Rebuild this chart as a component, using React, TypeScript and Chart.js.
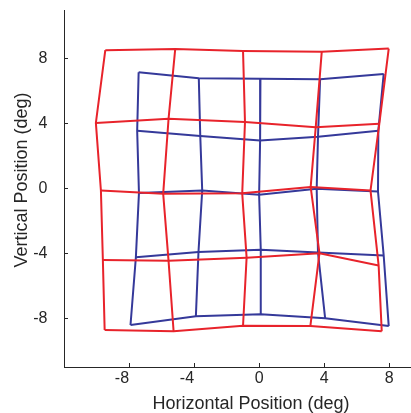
import React, { useEffect, useRef } from "react";
import { Chart, registerables } from "chart.js";

Chart.register(...registerables);

const xTicks = [-8, -4, 0, 4, 8];
const yTicks = [-8, -4, 0, 4, 8];

// Red grid vertices (rows top to bottom, columns left to right)
const redX = [
  [-9.46, -5.16, -0.99, 3.85, 7.97],
  [-10.04, -5.57, -0.87, 3.48, 7.39],
  [-9.73, -5.9, -1.04, 3.17, 6.85],
  [-9.61, -5.57, -0.77, 3.71, 7.35],
  [-9.5, -5.26, -0.99, 3.15, 7.54],
];
const redY = [
  [8.52, 8.6, 8.48, 8.42, 8.62],
  [4.04, 4.3, 4.1, 3.77, 3.99],
  [-0.12, -0.33, -0.3, 0.09, -0.12],
  [-4.4, -4.46, -4.26, -3.99, -4.75],
  [-8.72, -8.8, -8.46, -8.48, -8.8],
];

// Blue grid vertices
const blueX = [
  [-7.41, -3.71, 0.08, 3.75, 7.66],
  [-7.5, -3.62, 0.06, 3.62, 7.33],
  [-7.39, -3.5, 0.0, 3.54, 7.31],
  [-7.58, -3.73, 0.1, 3.62, 7.66],
  [-7.91, -3.89, 0.1, 4.06, 7.97],
];
const blueY = [
  [7.16, 6.79, 6.77, 6.73, 7.06],
  [3.56, 3.23, 2.96, 3.19, 3.56],
  [-0.27, -0.12, -0.38, -0.02, -0.19],
  [-4.24, -3.91, -3.78, -3.95, -4.13],
  [-8.41, -7.88, -7.75, -8.0, -8.48],
];

const xTitle = "Horizontal Position (deg)";
const yTitle = "Vertical Position (deg)";

const RED = "#e8232b";
const BLUE = "#35399a";
const AXIS = "#262626";
const FONT = "'Liberation Sans', Arial, Helvetica, sans-serif";

function gridDatasets(xs: number[][], ys: number[][], color: string) {
  const sets: any[] = [];
  const n = xs.length;
  const m = xs[0].length;
  for (let i = 0; i < n; i++) {
    const pts = [];
    for (let j = 0; j < m; j++) pts.push({ x: xs[i][j], y: ys[i][j] });
    sets.push(pts);
  }
  for (let j = 0; j < m; j++) {
    const pts = [];
    for (let i = 0; i < n; i++) pts.push({ x: xs[i][j], y: ys[i][j] });
    sets.push(pts);
  }
  return sets.map((data) => ({
    data,
    xAxisID: "x",
    yAxisID: "y",
    showLine: true,
    borderColor: color,
    backgroundColor: color,
    borderWidth: 2,
    pointRadius: 0,
    pointHoverRadius: 0,
    tension: 0,
    fill: false,
  }));
}

// Draws the vertical axis title (placed slightly above the axis centre, as in the source figure)
const yTitlePlugin = {
  id: "yTitlePlugin",
  afterDraw(chart: any) {
    const { ctx, chartArea } = chart;
    ctx.save();
    ctx.font = `18px ${FONT}`;
    ctx.fillStyle = AXIS;
    ctx.textAlign = "center";
    ctx.textBaseline = "middle";
    ctx.translate(22, (chartArea.top + chartArea.bottom) / 2 - 8.5);
    ctx.rotate(-Math.PI / 2);
    ctx.fillText(yTitle, 0, 0);
    ctx.restore();
  },
};

export default function App() {
  const ref = useRef<HTMLCanvasElement>(null);
  useEffect(() => {
    if (!ref.current) return;
    const chart = new Chart(ref.current, {
      type: "scatter",
      data: {
        datasets: [
          ...gridDatasets(redX, redY, RED),
          ...gridDatasets(blueX, blueY, BLUE),
        ],
      },
      options: {
        animation: false,
        responsive: false,
        devicePixelRatio: 1,
        layout: { padding: { left: 0, top: 10, right: 0, bottom: 0 } },
        plugins: {
          legend: { display: false },
          tooltip: { enabled: false },
        },
        scales: {
          x: {
            type: "linear",
            position: "bottom",
            weight: 0,
            min: -12,
            max: 11,
            afterBuildTicks: (s: any) => {
              s.ticks = xTicks.map((v) => ({ value: v }));
            },
            afterFit: (s: any) => {
              s.height = 46;
              s.paddingLeft = 0;
              s.paddingRight = 0;
            },
            grid: {
              drawOnChartArea: false,
              tickLength: -4,
              color: AXIS,
              lineWidth: 1,
            },
            border: { color: AXIS, width: 1 },
            ticks: {
              color: AXIS,
              font: { family: FONT, size: 16, lineHeight: 1 },
              padding: 8,
              maxRotation: 0,
              autoSkip: false,
              // negative labels are drawn by the companion axis (right-aligned at the tick)
              callback: (v: any) => (Number(v) < 0 ? "" : String(v)),
            },
            title: {
              display: true,
              text: xTitle,
              color: AXIS,
              font: { family: FONT, size: 18, lineHeight: 1 },
              padding: { top: 0, bottom: 0 },
            },
          },
          y: {
            type: "linear",
            min: -11,
            max: 11,
            afterBuildTicks: (s: any) => {
              s.ticks = yTicks.map((v) => ({ value: v }));
            },
            afterFit: (s: any) => {
              s.width = 64;
              s.paddingTop = 0;
              s.paddingBottom = 0;
            },
            grid: {
              drawOnChartArea: false,
              tickLength: -4,
              color: AXIS,
              lineWidth: 1,
            },
            border: { color: AXIS, width: 1 },
            ticks: {
              color: AXIS,
              font: { family: FONT, size: 16, lineHeight: 1 },
              padding: 20.5,
              autoSkip: false,
            },
            title: { display: false, text: yTitle },
          },
          xNeg: {
            type: "linear",
            axis: "x",
            position: "bottom",
            weight: -1,
            min: -12,
            max: 11,
            afterBuildTicks: (s: any) => {
              s.ticks = xTicks.filter((v) => v < 0).map((v) => ({ value: v }));
            },
            afterFit: (s: any) => {
              s.height = 0;
              s.paddingLeft = 0;
              s.paddingRight = 0;
            },
            grid: { display: false, drawTicks: false, tickLength: 0 },
            border: { display: false },
            ticks: {
              color: AXIS,
              font: { family: FONT, size: 16, lineHeight: 1 },
              mirror: true,
              padding: -20,
              align: "end",
              maxRotation: 0,
              autoSkip: false,
            },
            title: { display: false },
          },
        },
      },
      plugins: [yTitlePlugin],
    });
    return () => chart.destroy();
  }, []);
  return (
    <div
      style={{
        position: "absolute",
        left: 0,
        top: 0,
        width: 411,
        height: 413,
        overflow: "hidden",
        background: "#fff",
      }}
    >
      <canvas ref={ref} width={438} height={413} style={{ display: "block" }} />
    </div>
  );
}
